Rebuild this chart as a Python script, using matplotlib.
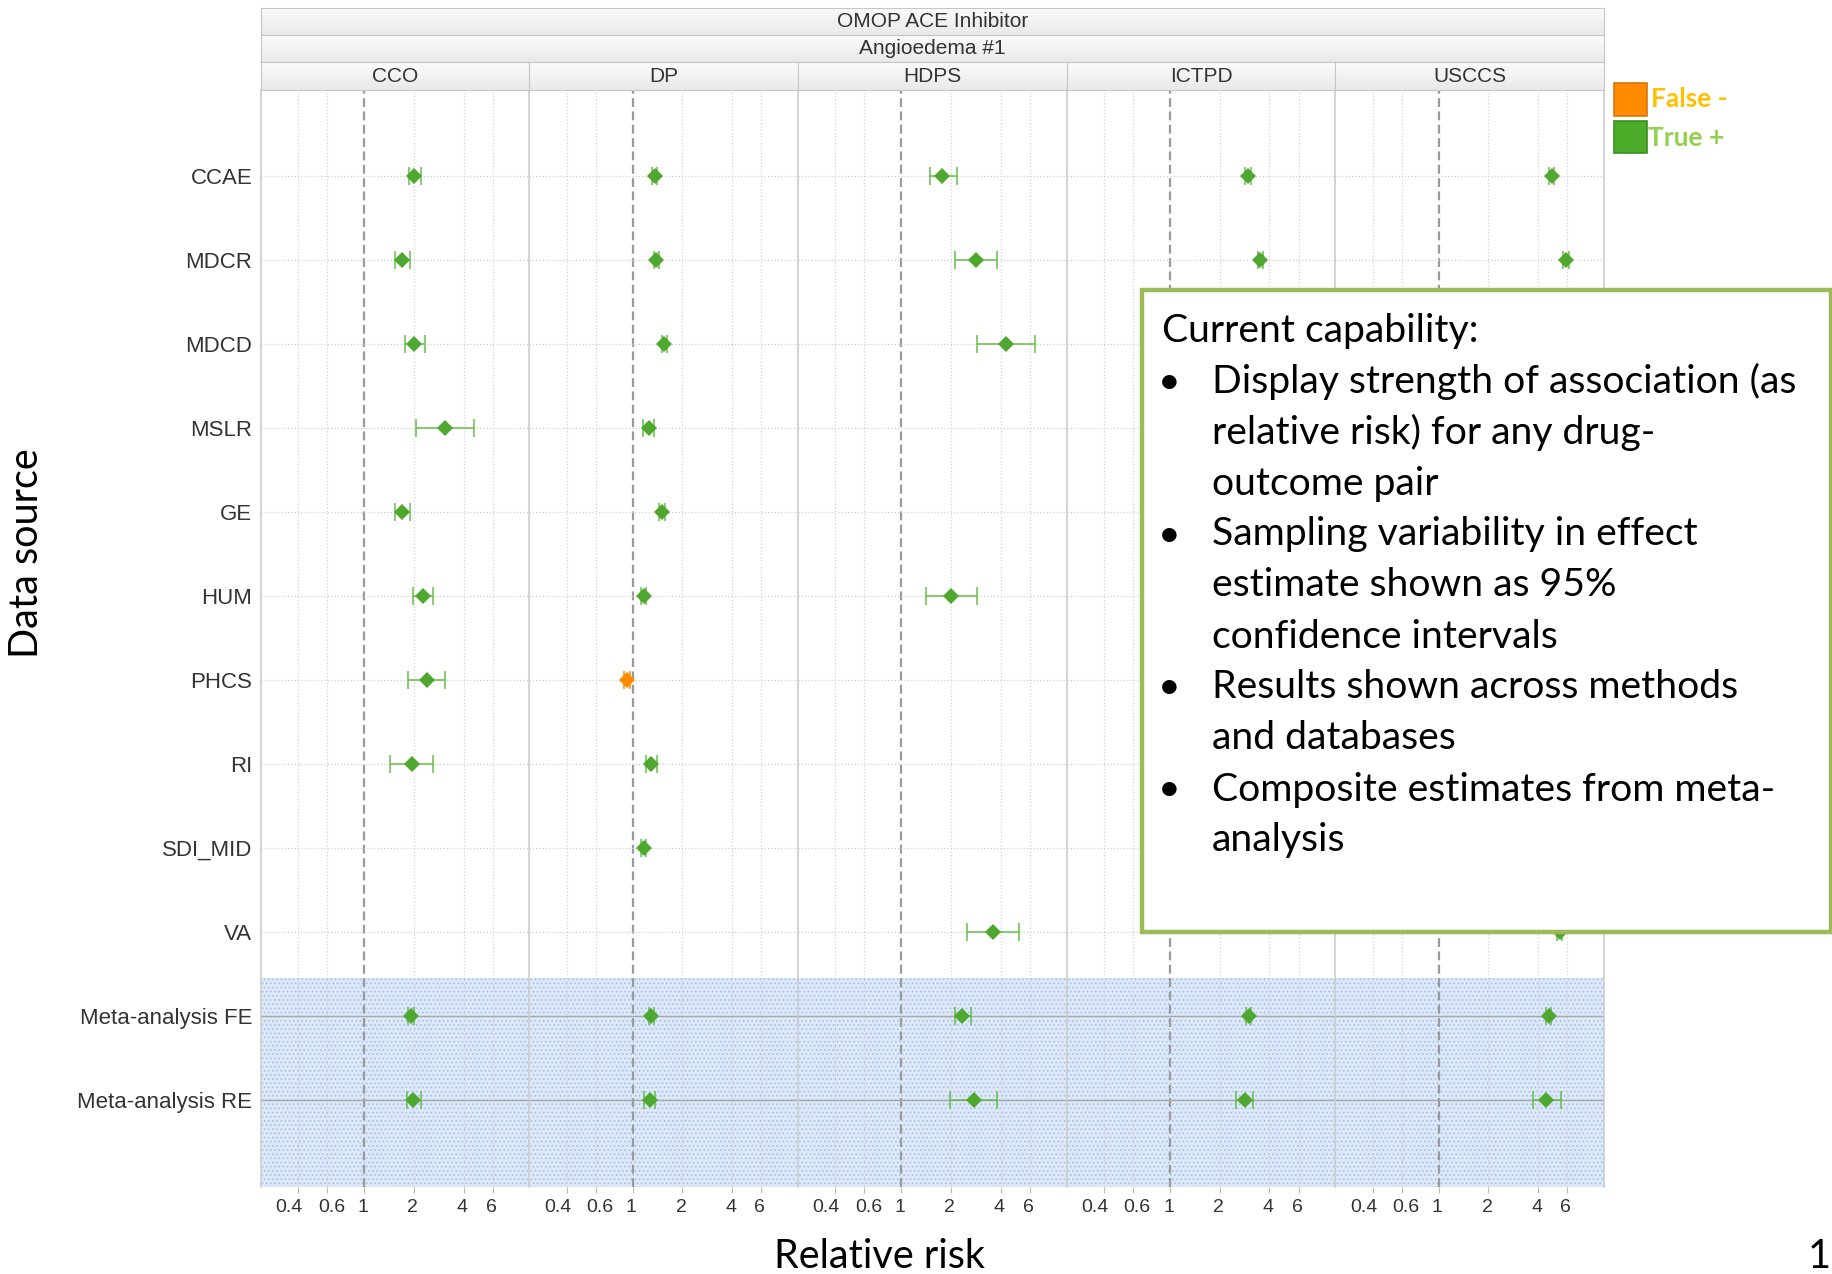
import numpy as np
import matplotlib
matplotlib.use("Agg")
import matplotlib.pyplot as plt
from matplotlib.patches import Rectangle
from matplotlib.ticker import NullLocator
from matplotlib.transforms import ScaledTranslation

plt.rcParams['font.family'] = ['Liberation Sans', 'DejaVu Sans']
plt.rcParams['hatch.linewidth'] = 0.6

methods = ["CCO", "DP", "HDPS", "ICTPD", "USCCS"]
sources = ["CCAE", "MDCR", "MDCD", "MSLR", "GE", "HUM", "PHCS", "RI",
           "SDI_MID", "VA", "Meta-analysis FE", "Meta-analysis RE"]
nan = np.nan

# relative risk and 95% CI per method, rows in the order of `sources`
# (ICTPD / USCCS rows under the text box can't be read -> nan)
cco_rr = [2.02, 1.71, 2.02, 3.08, 1.71, 2.28, 2.40, 1.95, nan, nan, 1.93, 1.98]
cco_lo = [1.87, 1.55, 1.77, 2.06, 1.55, 1.98, 1.84, 1.44, nan, nan, 1.86, 1.82]
cco_hi = [2.21, 1.90, 2.34, 4.64, 1.90, 2.60, 3.09, 2.60, nan, nan, 2.01, 2.20]

dp_rr = [1.36, 1.39, 1.56, 1.25, 1.51, 1.17, 0.93, 1.29, 1.17, nan, 1.30, 1.27]
dp_lo = [1.31, 1.34, 1.50, 1.16, 1.45, 1.13, 0.89, 1.21, 1.13, nan, 1.26, 1.18]
dp_hi = [1.41, 1.44, 1.62, 1.35, 1.57, 1.21, 0.97, 1.40, 1.21, nan, 1.34, 1.37]

hdps_rr = [1.76, 2.85, 4.27, nan, nan, 2.01, nan, nan, nan, 3.58, 2.34, 2.76]
hdps_lo = [1.50, 2.12, 2.87, nan, nan, 1.41, nan, nan, nan, 2.51, 2.10, 1.97]
hdps_hi = [2.16, 3.78, 6.43, nan, nan, 2.87, nan, nan, nan, 5.17, 2.63, 3.77]

ictpd_rr = [2.97, 3.52, nan, nan, nan, nan, nan, nan, nan, nan, 3.00, 2.83]
ictpd_lo = [2.86, 3.39, nan, nan, nan, nan, nan, nan, nan, nan, 2.90, 2.51]
ictpd_hi = [3.08, 3.65, nan, nan, nan, nan, nan, nan, nan, nan, 3.10, 3.18]

usccs_rr = [4.84, 5.90, nan, nan, nan, nan, nan, nan, nan, 5.40, 4.62, 4.45]
usccs_lo = [4.66, 5.68, nan, nan, nan, nan, nan, nan, nan, 5.20, 4.45, 3.72]
usccs_hi = [5.02, 6.12, nan, nan, nan, nan, nan, nan, nan, 5.60, 4.80, 5.46]

# method -> sources classified "False -"
false_neg = {"DP": ["PHCS"]}

ticks = [0.4, 0.6, 1, 2, 4, 6]
tick_labels = ["0.4", "0.6", "1", "2", "4", "6"]
tick_nudge = [-6.5, 3.0, -1.0, -1.0, -1.0, -1.0]  # pt, keeps 0.4 / 0.6 apart

box_title = "Current capability:"
box_bullets = [
    ["Display strength of association (as", "relative risk) for any drug-", "outcome pair"],
    ["Sampling variability in effect", "estimate shown as 95%", "confidence intervals"],
    ["Results shown across methods", "and databases"],
    ["Composite estimates from meta-", "analysis"],
]

data = {
    "CCO": (cco_rr, cco_lo, cco_hi),
    "DP": (dp_rr, dp_lo, dp_hi),
    "HDPS": (hdps_rr, hdps_lo, hdps_hi),
    "ICTPD": (ictpd_rr, ictpd_lo, ictpd_hi),
    "USCCS": (usccs_rr, usccs_lo, usccs_hi),
}

GREEN = '#4ea72e'
GREEN_BAR = '#66bd48'
ORANGE = '#ff8c00'

W, H = 1833, 1274
fig = plt.figure(figsize=(W / 100, H / 100), dpi=100)


def fx(px):
    return px / W


def fy(py):
    return 1 - py / H


panel_l, panel_r = 260.7, 1604
panel_t, panel_b = 90, 1186.5
pw = (panel_r - panel_l) / len(methods)
ypos = np.arange(len(sources))

for i, m in enumerate(methods):
    ax = fig.add_axes([fx(panel_l + i * pw), fy(panel_b), pw / W, (panel_b - panel_t) / H])
    ax.set_xscale('log')
    ax.set_xlim(0.238, 10)
    ax.set_ylim(len(sources) - 1 + 1.03, -1.03)

    # meta-analysis band
    ax.axhspan(9.55, 12.2, facecolor='#dce7f8', edgecolor='#9fbde9', hatch='....',
               lw=0, zorder=0)

    for t in ticks:
        if t == 1:
            ax.axvline(t, color='#9a9a9a', ls=(0, (4, 2)), lw=1.6, zorder=1)
        else:
            ax.axvline(t, color='#d2d2d2', ls=':', lw=0.9, zorder=1)
    for y in ypos:
        ax.axhline(y, color='#cfcfcf' if y < 10 else '#a8a8a8',
                   ls=':' if y < 10 else '-', lw=0.9 if y < 10 else 1.0, zorder=1)

    rr, lo, hi = (np.array(a, dtype=float) for a in data[m])
    ok = ~np.isnan(rr)
    fn = np.array([s in false_neg.get(m, []) for s in sources])
    for mask, col, bar in [(ok & ~fn, GREEN, GREEN_BAR), (ok & fn, ORANGE, ORANGE)]:
        if not mask.any():
            continue
        ax.errorbar(rr[mask], ypos[mask], xerr=[rr[mask] - lo[mask], hi[mask] - rr[mask]],
                    fmt='none', ecolor=bar, elinewidth=1.1, capsize=6.5, capthick=1.1, zorder=3)
        ax.plot(rr[mask], ypos[mask], 'D', color=col, ms=8.5, mew=0, zorder=4)

    ax.set_xticks(ticks)
    ax.set_xticklabels(tick_labels)
    ax.xaxis.set_minor_locator(NullLocator())
    ax.tick_params(axis='x', length=4, color='#bbbbbb', labelsize=14,
                   labelcolor='#333333', pad=5)
    for lab, dx in zip(ax.get_xticklabels(), tick_nudge):
        lab.set_transform(lab.get_transform() + ScaledTranslation(dx / 72, 0, fig.dpi_scale_trans))
    ax.set_yticks(ypos)
    if i == 0:
        ax.set_yticklabels(sources, fontsize=16, color='#333333')
    else:
        ax.tick_params(axis='y', labelleft=False)
    ax.tick_params(axis='y', length=0, pad=6)

    ax.spines['top'].set_visible(False)
    ax.spines['bottom'].set_visible(False)
    ax.spines['left'].set_color('#cccccc')
    ax.spines['left'].set_linewidth(1.2)
    ax.spines['right'].set_visible(i == len(methods) - 1)
    ax.spines['right'].set_color('#cccccc')
    ax.spines['right'].set_linewidth(1.2)

# light top-to-bottom gradient for the header strips
grad = np.linspace(0.985, 0.915, 20).reshape(-1, 1, 1) * np.ones((1, 1, 3))


def strip(x0, x1, y0, y1, text):
    sax = fig.add_axes([fx(x0), fy(y1), (x1 - x0) / W, (y1 - y0) / H])
    sax.imshow(grad, aspect='auto', extent=[0, 1, 0, 1])
    sax.set_xlim(0, 1)
    sax.set_ylim(0, 1)
    sax.set_xticks([])
    sax.set_yticks([])
    for s in sax.spines.values():
        s.set_color('#c6c6c6')
    sax.text(0.5, 0.5, text, ha='center', va='center', fontsize=15, color='#333333')


strip(panel_l, panel_r, 8, 35, "OMOP ACE Inhibitor")
strip(panel_l, panel_r, 35, 62, "Angioedema #1")
for i, m in enumerate(methods):
    strip(panel_l + i * pw, panel_l + (i + 1) * pw, 62, 90, m)

# slide text
fig.text(fx(27), fy(553), "Data source", rotation=90, ha='center', va='center',
         fontsize=28.5, family='Lato')
fig.text(fx(879), fy(1257), "Relative risk", ha='center', va='center',
         fontsize=28.5, family='Lato')
fig.text(fx(1831), fy(1257), "1", ha='right', va='center', fontsize=28.5, family='Lato')

# legend
fig.add_artist(Rectangle((fx(1614), fy(116)), 33 / W, 33 / H, transform=fig.transFigure,
                         fc=ORANGE, ec='#d9770a', lw=1.2, zorder=10))
fig.add_artist(Rectangle((fx(1614), fy(153)), 33 / W, 32 / H, transform=fig.transFigure,
                         fc='#4dac2a', ec='#3d8f22', lw=1.2, zorder=10))
fig.text(fx(1651), fy(99), "False -", ha='left', va='center', fontsize=19, color='#ffc000',
         fontweight='bold', family='Lato')
fig.text(fx(1648), fy(138), "True +", ha='left', va='center', fontsize=19, color='#92d050',
         fontweight='bold', family='Lato')

# text box
fig.add_artist(Rectangle((fx(1142), fy(932)), (1831 - 1142) / W, (932 - 290) / H,
                         transform=fig.transFigure, fc='white', ec='#9bbb59', lw=3.2, zorder=10))
line_y = 327
fig.text(fx(1162), fy(line_y), box_title, ha='left', va='center_baseline', fontsize=28.2,
         family='Lato', zorder=11)
for bullet in box_bullets:
    for k, line in enumerate(bullet):
        line_y += 51
        if k == 0:
            fig.text(fx(1169), fy(line_y), "\u2022", ha='center', va='center_baseline',
                     fontsize=28.2, family='Lato', zorder=11)
        fig.text(fx(1212), fy(line_y), line, ha='left', va='center_baseline', fontsize=28.2,
                 family='Lato', zorder=11)

fig.savefig("out.png", dpi=100)
